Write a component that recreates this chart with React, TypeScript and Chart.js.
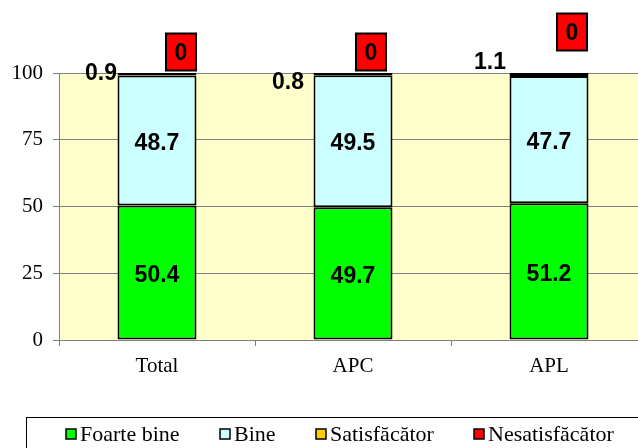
import { useEffect, useRef } from "react";
import { Chart, registerables } from "chart.js";

Chart.register(...registerables);

const categories = ["Total", "APC", "APL"];
const seriesNames = ["Foarte bine", "Bine", "Satisfăcător", "Nesatisfăcător"];
const foarteBine = [50.4, 49.7, 51.2];
const bine = [48.7, 49.5, 47.7];
const satisfacator = [0.9, 0.8, 1.1];
const nesatisfacator = [0, 0, 0];
const yTickValues = [0, 25, 50, 75, 100];

const seriesColors = ["#00FF00", "#CCFFFF", "#FFCC00", "#FF0000"];
// manual label placements (offsets from the top-centre of each stack, px)
const satLabelOffsets = [
  [-56, -1],
  [-65, 8],
  [-59, -12],
];
const nesLabelOffsets = [
  [24, -21],
  [18, -21],
  [23, -41],
];

const SANS = "'Liberation Sans', Arial, sans-serif";
const SERIF = "'Liberation Serif', 'Times New Roman', serif";

const bgPlugin = {
  id: "plotBg",
  beforeDraw(chart: any) {
    const { ctx, chartArea } = chart;
    ctx.save();
    ctx.fillStyle = "#FFFFCC";
    ctx.fillRect(chartArea.left, chartArea.top, chartArea.right - chartArea.left, chartArea.bottom - chartArea.top);
    ctx.restore();
  },
};

const labelPlugin = {
  id: "valueLabels",
  afterDatasetsDraw(chart: any) {
    const ctx = chart.ctx;
    ctx.save();
    ctx.font = `bold 23px ${SANS}`;
    ctx.textAlign = "center";
    ctx.textBaseline = "alphabetic";
    const capHalf = 8.2;
    chart.data.datasets.forEach((ds: any, di: number) => {
      const meta = chart.getDatasetMeta(di);
      meta.data.forEach((el: any, i: number) => {
        const v = ds.data[i];
        const p = el.getProps(["x", "y", "base"], true);
        const text = String(v);
        ctx.fillStyle = "#000";
        if (di < 2) {
          ctx.fillText(text, p.x, (p.y + p.base) / 2 + 1 + capHalf);
        } else if (di === 2) {
          const [dx, dy] = satLabelOffsets[i];
          ctx.fillText(text, p.x + dx, p.y + dy + capHalf);
        } else {
          const [dx, dy] = nesLabelOffsets[i];
          const cx = p.x + dx;
          const cy = p.y + dy;
          const w = 30;
          const h = 37;
          ctx.fillStyle = seriesColors[3];
          ctx.fillRect(cx - w / 2, cy - h / 2, w, h);
          ctx.lineWidth = 2;
          ctx.strokeStyle = "#000";
          ctx.strokeRect(cx - w / 2, cy - h / 2, w, h);
          ctx.fillStyle = "#000";
          ctx.fillText(text, cx, cy + capHalf);
        }
      });
    });
    ctx.restore();
  },
};

const legendPlugin = {
  id: "boxLegend",
  afterDraw(chart: any) {
    const ctx = chart.ctx;
    ctx.save();
    const top = 417;
    ctx.lineWidth = 1;
    ctx.strokeStyle = "#000";
    ctx.strokeRect(26.5, top + 0.5, 700, 100);
    const textXs = [80, 234, 330, 488];
    ctx.font = `22px ${SERIF}`;
    ctx.textAlign = "left";
    ctx.textBaseline = "alphabetic";
    seriesNames.forEach((name, i) => {
      const x = textXs[i];
      ctx.fillStyle = seriesColors[i];
      ctx.fillRect(x - 14, top + 12, 10, 10);
      ctx.lineWidth = 1.5;
      ctx.strokeStyle = "#000";
      ctx.strokeRect(x - 14, top + 12, 10, 10);
      ctx.fillStyle = "#000";
      ctx.fillText(name, x, top + 24);
    });
    ctx.restore();
  },
};

export default function App() {
  const ref = useRef<HTMLCanvasElement | null>(null);
  useEffect(() => {
    if (!ref.current) return;
    const series = [foarteBine, bine, satisfacator, nesatisfacator];
    const chart = new Chart(ref.current, {
      type: "bar",
      data: {
        labels: categories,
        datasets: series.map((d, i) => ({
          label: seriesNames[i],
          data: d,
          backgroundColor: seriesColors[i],
          borderColor: "#000",
          borderWidth: 2,
          borderSkipped: false,
          barPercentage: 1,
          categoryPercentage: 0.403,
        })),
      },
      options: {
        animation: false,
        responsive: false,
        maintainAspectRatio: false,
        devicePixelRatio: 1,
        layout: { padding: { top: 73, left: 0, right: 13, bottom: 90 } },
        plugins: {
          legend: { display: false },
          tooltip: { enabled: false },
          title: { display: false },
        },
        scales: {
          x: {
            stacked: true,
            grid: {
              offset: true,
              drawOnChartArea: false,
              drawTicks: true,
              tickLength: 6,
              color: "#808080",
            },
            border: { display: true, color: "#808080" },
            ticks: {
              color: "#000",
              font: { family: SERIF, size: 21 },
              padding: 8,
            },
            afterFit(scale: any) {
              scale.height = 40;
            },
          },
          y: {
            stacked: true,
            min: 0,
            max: 100,
            afterBuildTicks(scale: any) {
              scale.ticks = yTickValues.map((v) => ({ value: v }));
            },
            grid: { color: "#808080", tickLength: 6, drawTicks: true },
            border: { display: true, color: "#808080" },
            ticks: {
              color: "#000",
              font: { family: SERIF, size: 21 },
              padding: 10,
            },
            afterFit(scale: any) {
              scale.width = 59;
            },
          },
        },
      },
      plugins: [bgPlugin, labelPlugin, legendPlugin],
    });
    return () => chart.destroy();
  }, []);
  return (
    <div style={{ position: "fixed", left: 0, top: 0, width: 638, height: 448, overflow: "hidden", background: "#fff" }}>
      <canvas ref={ref} width={660} height={470} style={{ width: 660, height: 470, display: "block" }} />
    </div>
  );
}
